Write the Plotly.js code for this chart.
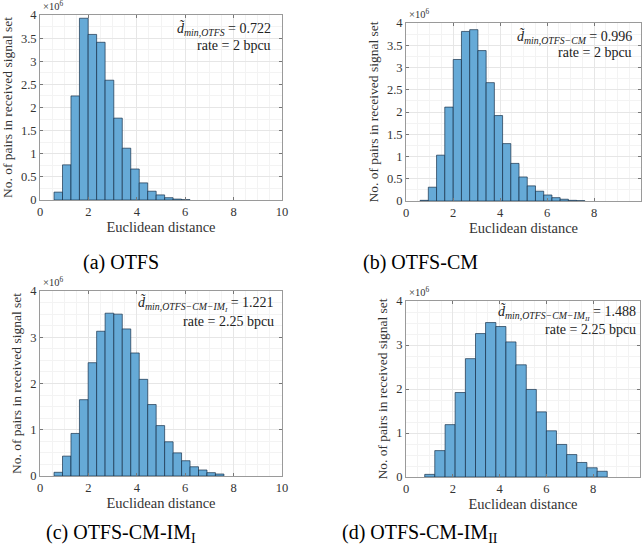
<!DOCTYPE html>
<html>
<head>
<meta charset="utf-8">
<script src="https://cdn.plot.ly/plotly-3.0.1.min.js"></script>
<style>html,body{margin:0;padding:0;background:#fff;}#chart{width:644px;height:552px;}</style>
</head>
<body>
<div id="chart"></div>
<script>
// ---- Data (counts in units of 10^6) ----
const edgesA = [0.58,0.93,1.28,1.63,1.99,2.34,2.69,3.05,3.40,3.75,4.10,4.45,4.80,5.15,5.50,5.85,6.20];
const countsA = [0.17,0.76,2.25,3.93,3.58,3.41,2.59,1.77,1.12,0.67,0.37,0.19,0.11,0.05,0.02,0.007];

const edgesB = [0.60,0.95,1.30,1.65,2.01,2.36,2.71,3.06,3.41,3.76,4.11,4.46,4.81,5.16,5.51,5.86,6.21,6.56,6.91,7.26,7.61];
const countsB = [0.015,0.31,1.03,2.11,3.18,3.81,3.85,3.38,2.66,1.92,1.29,0.845,0.54,0.34,0.22,0.135,0.075,0.04,0.015,0.007];

const edgesC = [0.58,0.93,1.28,1.63,1.99,2.34,2.69,3.05,3.40,3.75,4.10,4.45,4.80,5.15,5.50,5.85,6.20,6.55,6.90,7.25,7.60];
const countsC = [0.08,0.43,0.92,1.65,2.45,3.13,3.52,3.50,3.18,2.66,2.09,1.545,1.09,0.74,0.50,0.33,0.20,0.13,0.072,0.043];

const edgesD = [0.80,1.23,1.67,2.10,2.54,2.97,3.40,3.84,4.27,4.70,5.14,5.57,6.00,6.43,6.87,7.30,7.73,8.17,8.60];
const countsD = [0.06,0.60,1.19,1.92,2.69,3.26,3.51,3.42,3.07,2.55,1.99,1.48,1.05,0.74,0.51,0.33,0.21,0.13];

const xTitle = "Euclidean distance";
const yTitle = "No. of pairs in received signal set";
const dminLabels = [
  "<i>d̃</i><sub><i>min,OTFS</i></sub> = 0.722",
  "<i>d̃</i><sub><i>min,OTFS−CM</i></sub> = 0.996",
  "<i>d̃</i><sub><i>min,OTFS−CM−IM<sub>I</sub></i></sub> = 1.221",
  "<i>d̃</i><sub><i>min,OTFS−CM−IM<sub>II</sub></i></sub> = 1.488"
];
const rateLabels = ["rate = 2 bpcu","rate = 2 bpcu","rate = 2.25 bpcu","rate = 2.25 bpcu"];
const captions = ["(a) OTFS","(b) OTFS-CM","(c) OTFS-CM-IM<sub>I</sub>","(d) OTFS-CM-IM<sub>II</sub>"];

// ---- Layout helpers ----
const W = 644, H = 552;
const px = v => v / W;
const py = v => 1 - v / H;
const serif = "Liberation Serif";
const faceColor = "rgb(102,170,215)";
const edgeColor = "rgba(20,45,70,0.85)";

function hist(edges, counts, n) {
  const x = [], w = [];
  for (let i = 0; i < counts.length; i++) {
    x.push((edges[i] + edges[i+1]) / 2);
    w.push(edges[i+1] - edges[i]);
  }
  const s = n === 1 ? "" : String(n);
  return {type: "bar", x: x, y: counts, width: w, xaxis: "x" + s, yaxis: "y" + s,
    marker: {color: faceColor, line: {color: edgeColor, width: 0.8}}, hoverinfo: "x+y", showlegend: false};
}

const boxes = [
  {x0: 40, x1: 282, y0: 15, y1: 200, dt: 0.5},
  {x0: 406, x1: 641, y0: 23, y1: 201, dt: 0.5},
  {x0: 40, x1: 282, y0: 291, y1: 476, dt: 1},
  {x0: 406, x1: 640, y0: 301, y1: 477, dt: 1}
];

const layout = {
  width: W, height: H,
  margin: {l: 0, r: 0, t: 0, b: 0},
  paper_bgcolor: "#fff", plot_bgcolor: "#fff",
  bargap: 0,
  font: {family: serif, color: "#333"},
  annotations: []
};

boxes.forEach((b, i) => {
  const s = i === 0 ? "" : String(i + 1);
  const xa = {
    domain: [px(b.x0), px(b.x1)], range: [0, 10], anchor: "y" + s,
    tickmode: "linear", tick0: 0, dtick: 2,
    ticks: "inside", ticklen: 3, tickcolor: "#777",
    showline: true, linecolor: "#9a9a9a", linewidth: 1, mirror: "ticks",
    showgrid: true, gridcolor: "#e6e6e6", gridwidth: 1, zeroline: false,
    minor: {dtick: 0.5, showgrid: true, gridcolor: "#f3f3f3", ticks: ""},
    tickfont: {family: serif, size: 12.5, color: "#333"},
    title: {text: xTitle, font: {family: serif, size: 14.5, color: "#333"}, standoff: 3},
    fixedrange: true
  };
  const ya = {
    domain: [py(b.y1), py(b.y0)], range: [0, 4], anchor: "x" + s,
    tickmode: "linear", tick0: 0, dtick: b.dt,
    ticks: "inside", ticklen: 3, tickcolor: "#777",
    showline: true, linecolor: "#9a9a9a", linewidth: 1, mirror: "ticks",
    showgrid: true, gridcolor: "#e6e6e6", gridwidth: 1, zeroline: false,
    minor: {dtick: 0.25, showgrid: true, gridcolor: "#f3f3f3", ticks: ""},
    tickfont: {family: serif, size: 12.5, color: "#333"},
    title: {text: yTitle, font: {family: serif, size: 13.5, color: "#333"}, standoff: 5},
    fixedrange: true
  };
  layout["xaxis" + s] = xa;
  layout["yaxis" + s] = ya;
  // exponent label
  layout.annotations.push({xref: "paper", yref: "paper", x: px(b.x0 + 1), y: py(b.y0 - 1),
    xanchor: "left", yanchor: "bottom", showarrow: false,
    text: "×10<sup>6</sup>", font: {family: serif, size: 10.5, color: "#333"}});
});

const annPos = [
  {x: 273, y1: 29, y2: 45},
  {x: 634, y1: 37, y2: 53},
  {x: 276, y1: 303, y2: 321},
  {x: 638, y1: 312, y2: 329}
];
annPos.forEach((a, i) => {
  layout.annotations.push({xref: "paper", yref: "paper", x: px(a.x), y: py(a.y1),
    xanchor: "right", yanchor: "middle", showarrow: false,
    text: dminLabels[i], font: {family: serif, size: 14, color: "#222"}});
  layout.annotations.push({xref: "paper", yref: "paper", x: px(a.x), y: py(a.y2),
    xanchor: "right", yanchor: "middle", showarrow: false,
    text: rateLabels[i], font: {family: serif, size: 14, color: "#222"}});
});

const capPos = [{x: 121, y: 262}, {x: 420, y: 262}, {x: 121, y: 533}, {x: 420, y: 533}];
capPos.forEach((c, i) => {
  layout.annotations.push({xref: "paper", yref: "paper", x: px(c.x), y: py(c.y),
    xanchor: "center", yanchor: "middle", showarrow: false,
    text: captions[i], font: {family: serif, size: 20, color: "#000"}});
});

const data = [hist(edgesA, countsA, 1), hist(edgesB, countsB, 2), hist(edgesC, countsC, 3), hist(edgesD, countsD, 4)];
Plotly.newPlot("chart", data, layout, {displayModeBar: false, staticPlot: true});
</script>
</body>
</html>
